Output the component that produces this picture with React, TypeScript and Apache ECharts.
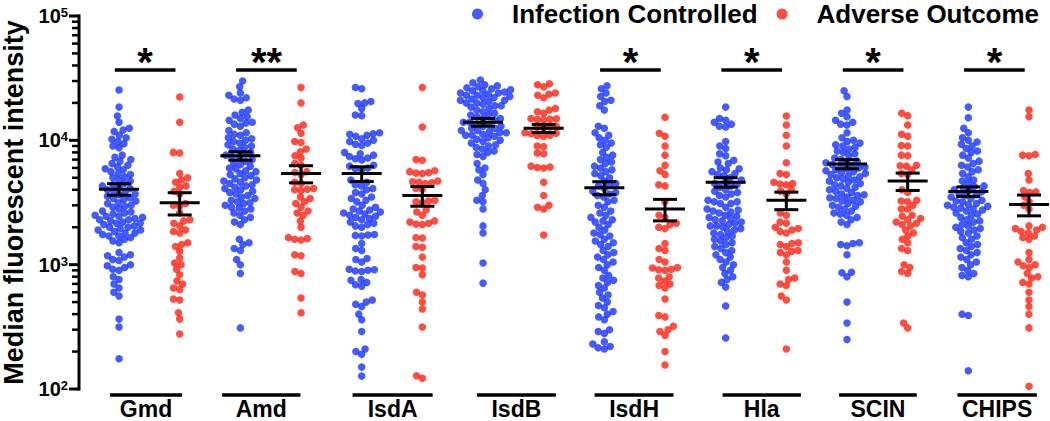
import React, { useEffect, useRef } from "react";
import * as echarts from "echarts";

const FONT = '"Liberation Sans", Arial, Helvetica, sans-serif';
const BLUE = "#1432ff";
const RED = "#ff2211";

const antigens = ["Gmd", "Amd", "IsdA", "IsdB", "IsdH", "Hla", "SCIN", "CHIPS"];
const outcomes = ["Infection Controlled", "Adverse Outcome"];
const significance = ["*", "**", "", "", "*", "*", "*", "*"];
const yTicks = [100, 1000, 10000, 100000];

const gmdControlled = [25400, 18500, 15700, 14000, 12500, 12100, 11800, 11000, 10500, 10200, 9800, 9400, 9000, 8700,
  7600, 7300, 7000, 6800, 6500, 6300, 6100, 5900, 5800,
  5600, 5400, 5300, 5100, 5000, 4800, 4700, 4500, 4400, 4300, 4200, 4100,
  4000, 3900, 3800, 3700, 3650, 3550, 3450, 3400, 3350,
  3250, 3150, 3100, 3000, 2950, 2900, 2800, 2700, 2650, 2600,
  2550, 2500, 2450, 2450, 2400, 2350, 2300, 2300, 2250, 2200, 2150, 2150, 2100, 2050, 2000, 2000, 1950, 1900, 1900, 1850, 1800, 1800, 1750, 1700, 1700, 1650, 1600, 1550, 1500,
  1250, 1200, 1180, 1150, 1100, 1080, 1000, 980, 950, 920, 900, 800, 760, 700, 650, 600, 560, 365, 315, 175];
const gmdAdverse = [22300, 14000, 8000, 7900, 5400, 5000, 4800, 4600, 4300, 4200, 3900, 3700, 3100, 3000, 2950, 2600,
  2300, 2250, 2150, 2050, 1900, 1850, 1800, 1500, 1450, 1400, 1280, 1130, 1030, 1000, 920, 830, 740, 700, 650, 630, 530, 520, 410, 365, 277];

const amdControlled = [30000, 27000, 24000, 23000, 22000, 21500, 21000, 17500, 16800, 16000, 15500, 15000, 14500, 14000, 13800, 13500, 13000,
  12000, 11500, 11200, 11000, 10500, 10300, 10000, 9800, 9500, 9200, 9000, 8800, 8500, 8300, 8000, 7800, 7600, 7400, 7200, 7000,
  6800, 6600, 6400, 6200, 6000, 5900, 5700, 5600, 5400, 5300, 5200, 5000, 4900, 4800, 4700, 4600, 4500, 4400, 4300, 4200, 4100,
  4000, 3900, 3800, 3700, 3600, 3500, 3400, 3300, 3200, 3150, 3100, 3000, 2900, 2850, 2800, 2700, 2600, 2500, 2400, 2300, 2200, 2100,
  1600, 1500, 1450, 1350, 1300, 1100, 1000, 850, 310];
const amdAdverse = [26600, 20000, 13300, 12600, 11400, 9800, 9600, 8500, 8100, 7500, 7200, 6500, 6300, 5600, 5500, 5300, 4600, 4500,
  4100, 4050, 4000, 3950, 3500, 3400, 3200, 3100, 2900, 2700, 2600, 2500, 2250, 2000, 1650, 1620, 1600, 1580, 1200, 1180, 880, 850, 540, 410];

const isdAControlled = [26600, 26000, 20500, 20000, 19800, 18000, 16000, 15800, 11500, 11300, 11200, 11000, 10800, 10300, 10000, 9800, 9500,
  9300, 9100, 8000, 7800, 7600, 7400, 7200, 7100, 6950, 6300, 6200, 6000, 5900, 5800, 4800, 4600, 4400, 4300, 4100, 4000, 3800, 3700,
  3500, 3400, 3300, 3200, 3000, 2900, 2800, 2750, 2700, 2650, 2600, 2550, 2500, 2450, 2400, 2350, 2300, 2200, 2150, 2100, 2050, 2000,
  1750, 1730, 1720, 1700, 1480, 1350, 1300, 1120, 1100, 1050, 920, 910, 900, 890, 880, 760, 750, 720, 690, 670, 520, 500, 480, 460,
  400, 360, 290, 210, 200, 190, 150, 127];
const isdAAdverse = [26600, 12800, 7000, 6900, 5700, 5600, 5500, 5450, 5400, 4700, 4650, 4600, 4550, 4500, 4100, 4050, 3300, 3250, 3200,
  3150, 2750, 2650, 2500, 2250, 2200, 2150, 2120, 2100, 1650, 1640, 1400, 1380, 1150, 950, 940, 830, 600, 570, 500, 440, 315, 128, 122];

const isdBControlled = [30500, 29000, 28000, 27500, 27000, 26500, 26000, 25500, 25000, 25000, 24500, 24000, 24000, 23500, 23000, 23000,
  22500, 22000, 22000, 21500, 21000, 21000, 20500, 20000, 20000, 19500, 19000, 19000, 18500, 18000, 17500, 17000, 16500, 16000, 16000,
  15500, 15000, 15000, 14500, 14000, 14000, 13500, 13500, 13000, 13000, 12500, 12500, 12000, 12000, 11800, 11500, 11500, 11200, 11000,
  11000, 10800, 10500, 10200, 10000, 9800, 9500, 9200, 9000, 8800, 8500, 8200, 8000, 7700, 7400, 6500, 6000, 5800, 5300, 4800, 4500,
  4000, 3600, 3300, 3200, 2800, 2050, 1800, 1030, 710];
const isdBAdverse = [28500, 28000, 27000, 24000, 23500, 23000, 22000, 18000, 17500, 17000, 16500, 15000, 14900, 14800, 14700, 14600,
  12900, 12800, 12700, 12600, 11500, 11400, 11300, 11000, 10900, 10800, 9000, 8900, 7900, 7800, 6200, 6100, 6050, 6000, 4600, 3600,
  3000, 2900, 2800, 1730];

const isdHControlled = [27500, 26000, 24000, 22500, 21000, 20500, 19000, 17500, 13000, 12500, 11500, 11000, 10500, 10000, 9500, 9200,
  8800, 8000, 7600, 7300, 7000, 6700, 6500, 6200, 6000, 5800, 5600, 5400, 5200, 5000, 4700, 4500, 4400, 4300, 4100, 3900, 3800, 3700,
  3600, 3500, 3300, 3200, 3000, 2900, 2700, 2600, 2500, 2400, 2300, 2250, 2200, 2100, 2000, 1900, 1800, 1750, 1700, 1600, 1550, 1500,
  1450, 1400, 1300, 1250, 1200, 1150, 1100, 1050, 1000, 950, 900, 820, 780, 750, 720, 680, 650, 600, 570, 540, 500, 470, 450, 420,
  400, 380, 360, 300, 290, 280, 240, 230, 220, 215, 210];
const isdHAdverse = [15300, 11400, 10800, 9000, 7600, 6300, 5700, 5300, 4400, 4300, 3200, 2500, 2400, 2150, 2100, 2000, 1950, 1480,
  1350, 1300, 1100, 1050, 950, 940, 920, 910, 900, 800, 780, 740, 700, 680, 650, 530, 390, 380, 320, 300, 290, 270, 200, 156];

const hlaControlled = [18500, 15000, 14500, 14000, 13500, 13000, 12800, 9800, 9000, 8600, 7800, 7500, 6900, 6700, 6500, 6000, 5900,
  5800, 5600, 5400, 5300, 5200, 5000, 4800, 4600, 4500, 4400, 4300, 4200, 4000, 3900, 3800, 3700, 3600, 3500, 3300, 3200, 3200, 3100,
  3100, 2900, 2800, 2750, 2700, 2650, 2600, 2500, 2450, 2400, 2350, 2300, 2250, 2200, 2150, 2100, 2050, 2050, 2000, 1950, 1900, 1850,
  1800, 1750, 1700, 1650, 1600, 1550, 1500, 1450, 1400, 1350, 1300, 1250, 1200, 1150, 1100, 1050, 1000, 950, 900, 850, 800, 760, 720,
  660, 465, 257];
const hlaAdverse = [15700, 13300, 11000, 9000, 6600, 5400, 5300, 4600, 4500, 4450, 4400, 4000, 3900, 3700, 2600, 2500, 2200, 2150,
  2000, 1950, 1900, 1850, 1800, 1500, 1480, 1450, 1400, 1300, 1280, 1250, 1200, 1050, 900, 780, 760, 700, 680, 560, 520, 210];

const scinControlled = [25000, 22500, 17500, 16500, 15500, 14500, 14000, 13500, 13300, 11500, 10500, 10000, 9800, 9500, 9200, 9000,
  8800, 8500, 8200, 8000, 7800, 7500, 7200, 7000, 6800, 6700, 6600, 6400, 6300, 6200, 6100, 6000, 5900, 5800, 5700, 5600, 5500, 5400,
  5300, 5200, 5100, 5000, 4900, 4800, 4700, 4600, 4500, 4400, 4300, 4200, 4100, 4000, 3900, 3800, 3700, 3650, 3600, 3500, 3450, 3400,
  3300, 3250, 3200, 3100, 3000, 2950, 2900, 2800, 2700, 2600, 2550, 2500, 2400, 2300, 2200, 2100, 1500, 1480, 1450, 1420, 1200, 870,
  860, 800, 500, 340, 250];
const scinAdverse = [16500, 15800, 13300, 11200, 10800, 9100, 9000, 7600, 7500, 6300, 6250, 6200, 5800, 5400, 5300, 4000, 3800, 3300,
  3250, 3200, 3000, 2800, 2800, 2500, 2450, 2350, 2300, 2200, 2150, 2100, 2050, 1900, 1800, 1700, 1600, 1500, 1350, 1300, 1000, 950,
  880, 850, 340, 310];

const chipsControlled = [18500, 15200, 12500, 11500, 10500, 10000, 9700, 9300, 9000, 8600, 8200, 8000, 7600, 7200, 6800, 6500, 6300,
  6100, 5800, 5600, 5400, 5100, 4800, 4700, 4500, 4300, 4250, 4150, 4000, 3950, 3850, 3700, 3650, 3600, 3500, 3400, 3300, 3250, 3200,
  3100, 3050, 3000, 2950, 2900, 2850, 2800, 2750, 2700, 2600, 2550, 2500, 2400, 2300, 2250, 2200, 2100, 2050, 2000, 1950, 1900, 1850,
  1800, 1700, 1650, 1600, 1500, 1450, 1400, 1350, 1300, 1250, 1200, 1150, 1100, 1050, 1000, 950, 900, 850, 820, 800, 400, 390, 140];
const chipsAdverse = [17500, 15500, 7700, 7600, 7500, 5400, 4800, 3950, 3850, 3800, 3500, 3200, 3000, 2800, 2050, 2000, 1950, 1900,
  1850, 1800, 1700, 1650, 1600, 1250, 1100, 1050, 1000, 980, 950, 850, 800, 780, 720, 700, 600, 520, 460, 400, 310, 105];

const controlledMean = [4050, 7500, 5400, 14000, 4150, 4600, 6450, 3880];
const controlledSem = [430, 580, 730, 1000, 500, 400, 550, 340];
const adverseMean = [3150, 5400, 3600, 12500, 2800, 3300, 4700, 3050];
const adverseSem = [640, 850, 650, 950, 550, 530, 750, 580];

const controlledValues = [gmdControlled, amdControlled, isdAControlled, isdBControlled, isdHControlled, hlaControlled, scinControlled, chipsControlled];
const adverseValues = [gmdAdverse, amdAdverse, isdAAdverse, isdBAdverse, isdHAdverse, hlaAdverse, scinAdverse, chipsAdverse];

// ---- layout (not data) ----
const W = 1050;
const H = 421;
const GRID = { left: 79, right: 5, top: 16, bottom: 32 };
const X_MIN = -0.66;
const X_MAX = 15.264;
const PX_PER_X = (W - GRID.left - GRID.right) / (X_MAX - X_MIN);
const PX_PER_DECADE = (H - GRID.top - GRID.bottom) / 3;
const DOT = 7.5;
const SWARM_D = 6.4;
const SEGMENTS = [[-0.15, 1.04], [-0.3, 0.99], [-0.15, 1.17], [-0.1, 1.2], [-0.16, 1.14], [-0.05, 1.24], [-0.13, 1.15], [-0.18, 1.13]];

function swarmOffsets(values: number[]): number[] {
  const items = values.map((v, i) => ({ i, y: Math.log10(v) * PX_PER_DECADE }));
  items.sort((a, b) => a.y - b.y);
  const placed: { x: number; y: number }[] = [];
  const out = new Array(values.length).fill(0);
  for (const it of items) {
    const intervals: [number, number][] = [];
    for (const p of placed) {
      const dy = it.y - p.y;
      if (Math.abs(dy) < SWARM_D) {
        const dx = Math.sqrt(SWARM_D * SWARM_D - dy * dy);
        intervals.push([p.x - dx, p.x + dx]);
      }
    }
    const cands = [0];
    intervals.forEach(([a, b]) => cands.push(a, b));
    cands.sort((a, b) => Math.abs(a) - Math.abs(b));
    let chosen = 0;
    for (const c of cands) {
      if (intervals.every(([a, b]) => c <= a + 1e-6 || c >= b - 1e-6)) {
        chosen = c;
        break;
      }
    }
    placed.push({ x: chosen, y: it.y });
    out[it.i] = chosen;
  }
  return out;
}

function buildPoints(groups: number[][], outcome: number) {
  const pts: number[][] = [];
  groups.forEach((vals, g) => {
    const offs = swarmOffsets(vals);
    vals.forEach((v, i) => pts.push([2 * g + outcome + offs[i] / PX_PER_X, v]));
  });
  return pts;
}

// fallback pixel position on the y axis (only for the axis line / ticks)
const axisY = (v: number) => GRID.top + (Math.log10(yTicks[yTicks.length - 1]) - Math.log10(v)) * PX_PER_DECADE;

export default function App() {
  const ref = useRef<HTMLDivElement>(null);
  const overlayRef = useRef<HTMLDivElement>(null);
  useEffect(() => {
    if (!ref.current || !overlayRef.current) return;
    const chart = echarts.init(ref.current, null, { renderer: "svg" });

    const meanData: number[][] = [];
    antigens.forEach((_, g) => {
      meanData.push([2 * g, controlledMean[g], controlledSem[g]]);
      meanData.push([2 * g + 1, adverseMean[g], adverseSem[g]]);
    });

    const black = { stroke: "#000", lineWidth: 3 };

    chart.setOption({
      animation: false,
      grid: { ...GRID, outerBoundsContain: "axisLabel" },
      legend: {
        data: outcomes,
        left: 472,
        top: 1,
        padding: 0,
        icon: "circle",
        itemWidth: 11,
        itemHeight: 11,
        itemGap: 19,
        selectedMode: false,
        textStyle: { fontSize: 26, fontWeight: "bold", fontFamily: FONT, color: "#000", padding: [0, 0, 0, 24] },
      },
      xAxis: { type: "value", min: X_MIN, max: X_MAX, show: false },
      yAxis: {
        type: "log",
        logBase: 10,
        min: 100,
        max: 100000,
        name: "Median fluorescent intensity",
        nameLocation: "middle",
        nameGap: 49,
        nameTextStyle: { fontSize: 27, fontWeight: "bold", fontFamily: FONT, color: "#000" },
        axisLine: { show: false, onZero: false },
        axisTick: { show: false },
        splitLine: { show: false },
        axisLabel: {
          margin: 11,
          formatter: (v: number) => `{b|10}{s|${Math.round(Math.log10(v))}}`,
          rich: {
            b: { fontSize: 20, fontWeight: "bold", fontFamily: FONT, color: "#000", lineHeight: 20 },
            s: { fontSize: 13, fontWeight: "bold", fontFamily: FONT, color: "#000", lineHeight: 13, verticalAlign: "top" },
          },
        },
      },
      series: [
        {
          name: outcomes[0],
          type: "scatter",
          symbol: "circle",
          symbolSize: DOT,
          itemStyle: { color: BLUE },
          data: buildPoints(controlledValues, 0),
          z: 2,
        },
        {
          name: outcomes[1],
          type: "scatter",
          symbol: "circle",
          symbolSize: DOT,
          itemStyle: { color: RED },
          data: buildPoints(adverseValues, 1),
          z: 2,
        },
        {
          type: "custom",
          name: "meanSem",
          clip: false,
          z: 5,
          data: meanData,
          encode: { x: 0, y: 1 },
          renderItem: (_p: any, api: any) => {
            const x = api.value(0);
            const m = api.value(1);
            const s = api.value(2);
            const c = api.coord([x, m]);
            const hi = api.coord([x, m + s]);
            const lo = api.coord([x, m - s]);
            return {
              type: "group",
              children: [
                { type: "line", shape: { x1: c[0] - 20, y1: c[1], x2: c[0] + 20, y2: c[1] }, style: black },
                { type: "line", shape: { x1: c[0], y1: hi[1], x2: c[0], y2: lo[1] }, style: black },
                { type: "line", shape: { x1: c[0] - 12, y1: hi[1], x2: c[0] + 12, y2: hi[1] }, style: black },
                { type: "line", shape: { x1: c[0] - 12, y1: lo[1], x2: c[0] + 12, y2: lo[1] }, style: black },
              ],
            };
          },
        },
        {
          type: "custom",
          name: "annotations",
          clip: false,
          z: 5,
          data: antigens.map((_, g) => [2 * g, 1000]),
          encode: { x: 0, y: 1 },
          renderItem: (p: any, api: any) => {
            const g = p.dataIndex;
            const x0 = 2 * g;
            const bottom = api.coord([x0, 100])[1];
            const top = api.coord([x0, 100000])[1];
            const s0 = api.coord([x0 + SEGMENTS[g][0], 100])[0];
            const s1 = api.coord([x0 + SEGMENTS[g][1], 100])[0];
            const children: any[] = [
              { type: "line", shape: { x1: s0, y1: bottom + 6, x2: s1, y2: bottom + 6 }, style: { stroke: "#000", lineWidth: 3.5 } },
              {
                type: "text",
                x: (s0 + s1) / 2,
                y: bottom + 20,
                style: { text: antigens[g], fill: "#000", font: `bold 23px ${FONT}`, textAlign: "center", textVerticalAlign: "middle" },
              },
            ];
            if (significance[g]) {
              const b0 = api.coord([x0 - 0.07, 100])[0];
              const b1 = api.coord([x0 + 0.93, 100])[0];
              const by = top + 54;
              children.push({ type: "line", shape: { x1: b0, y1: by, x2: b1, y2: by }, style: { stroke: "#000", lineWidth: 3.5 } });
              children.push({
                type: "text",
                x: (b0 + b1) / 2,
                y: by - 8,
                style: { text: significance[g], fill: "#000", font: `bold 40px ${FONT}`, textAlign: "center", textVerticalAlign: "middle" },
              });
            }
            return { type: "group", children };
          },
        },
      ],
    });

    // y axis line and ticks: drawn in a transparent overlay chart on top, at positions from the main chart's scale
    const px = (v: number): number[] => {
      try {
        const p = chart.convertToPixel({ gridIndex: 0 }, [X_MIN, v]) as any;
        if (p && isFinite(p[0]) && isFinite(p[1])) return [p[0], p[1]];
      } catch (e) {
        /* fall back */
      }
      return [GRID.left, axisY(v)];
    };
    const els: any[] = [];
    const pT = px(yTicks[yTicks.length - 1]);
    const pB = px(yTicks[0]);
    els.push({ type: "line", shape: { x1: pT[0], y1: pT[1] - 1.5, x2: pB[0], y2: pB[1] + 1.5 }, style: { stroke: "#000", lineWidth: 3 } });
    yTicks.forEach((t) => {
      const p = px(t);
      els.push({ type: "line", shape: { x1: p[0] - 10, y1: p[1], x2: p[0], y2: p[1] }, style: { stroke: "#000", lineWidth: 3 } });
    });
    yTicks.slice(0, -1).forEach((d) => {
      for (let k = 2; k <= 9; k++) {
        const p = px(d * k);
        els.push({ type: "line", shape: { x1: p[0] - 7, y1: p[1], x2: p[0], y2: p[1] }, style: { stroke: "#000", lineWidth: 2.5 } });
      }
    });
    const overlay = echarts.init(overlayRef.current, null, { renderer: "svg" });
    overlay.setOption({ animation: false, backgroundColor: "transparent", graphic: { elements: els } });

    return () => {
      chart.dispose();
      overlay.dispose();
    };
  }, []);
  return (
    <div style={{ position: "absolute", left: 0, top: 0, width: W, height: H }}>
      <div ref={ref} style={{ position: "absolute", left: 0, top: 0, width: W, height: H }} />
      <div ref={overlayRef} style={{ position: "absolute", left: 0, top: 0, width: W, height: H, pointerEvents: "none" }} />
    </div>
  );
}
